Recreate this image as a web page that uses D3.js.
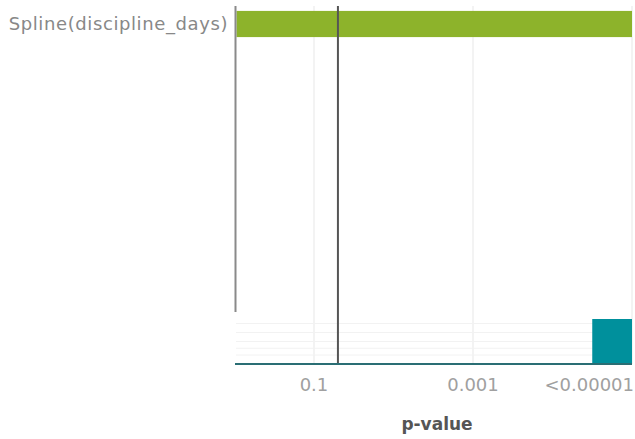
<!DOCTYPE html>
<html><head><meta charset="utf-8">
<script src="https://cdn.jsdelivr.net/npm/d3@7"></script>
<style>body{margin:0;background:#fff}svg{display:block}</style>
</head><body>
<svg id="c" width="635" height="439"></svg>
<script>
const effects = ["Spline(discipline_days)"];
const pValues = [0.000001];
const alpha = 0.05;
const tickValues = [0.1, 0.001, 0.00001];
const tickLabels = ["0.1", "0.001", "<0.00001"];
// histogram of -log10(p) bins (start, count)
const binStarts = [0, 0.5, 1, 1.5, 2, 2.5, 3, 3.5, 4, 4.5];
const binCounts = [0, 0, 0, 0, 0, 0, 0, 0, 0, 1];
const binWidth = 0.5;

const svg = d3.select("#c");
const nl = p => Math.min(5, -Math.log10(p));
const x = d3.scaleLinear().domain([0, 5]).range([234.5, 632]);
const y = d3.scaleBand().domain(effects).range([8, 40]).paddingInner(0.1).paddingOuter(0.1);
const topY0 = 6, axisY = 364;
const yh = d3.scaleLinear().domain([0, 1]).range([axisY, 319]);
const FONT = "DejaVu Sans";

svg.append("g").selectAll("line").data(tickValues).join("line")
  .attr("x1", d => x(nl(d))).attr("x2", d => x(nl(d)))
  .attr("y1", topY0).attr("y2", axisY)
  .attr("stroke", "#efefef").attr("stroke-width", 1.5);

svg.append("g").selectAll("line").data([0.1, 0.3, 0.5, 0.65, 0.8]).join("line")
  .attr("x1", 236).attr("x2", 632)
  .attr("y1", d => yh(1 - d)).attr("y2", d => yh(1 - d))
  .attr("stroke", "#f2f2f2").attr("stroke-width", 1);

svg.append("g").selectAll("rect").data(effects).join("rect")
  .attr("x", x(0) + 2).attr("y", d => y(d))
  .attr("width", (d, i) => x(nl(pValues[i])) - x(0) - 2)
  .attr("height", y.bandwidth())
  .attr("fill", "#8db32b");

svg.append("g").selectAll("rect").data(binStarts).join("rect")
  .attr("x", d => x(d)).attr("y", (d, i) => yh(binCounts[i]))
  .attr("width", x(binWidth) - x(0))
  .attr("height", (d, i) => axisY - yh(binCounts[i]))
  .attr("fill", "#00909c");

svg.append("line").attr("x1", 235.5).attr("x2", 235.5).attr("y1", topY0).attr("y2", 312)
  .attr("stroke", "#8a8a8a").attr("stroke-width", 2);

svg.append("line").attr("x1", x(nl(alpha))).attr("x2", x(nl(alpha)))
  .attr("y1", topY0).attr("y2", axisY)
  .attr("stroke", "#555").attr("stroke-width", 2);

svg.append("line").attr("x1", 235).attr("x2", 632).attr("y1", axisY).attr("y2", axisY)
  .attr("stroke", "#2a6e74").attr("stroke-width", 2);

svg.append("g").selectAll("text").data(tickValues).join("text")
  .attr("x", (d, i) => i === tickValues.length - 1 ? 634 : x(nl(d)))
  .attr("y", 391)
  .attr("text-anchor", (d, i) => i === tickValues.length - 1 ? "end" : "middle")
  .attr("font-family", FONT).attr("font-size", 18)
  .attr("fill", "#a0a0a0")
  .text((d, i) => tickLabels[i]);

svg.append("g").selectAll("text").data(effects).join("text")
  .attr("x", 228).attr("y", d => y(d) + y.bandwidth() / 2 + 6)
  .attr("text-anchor", "end")
  .attr("font-family", FONT).attr("font-size", 18).attr("letter-spacing", 0.6)
  .attr("fill", "#888")
  .text(d => d);

svg.append("text").attr("x", 437).attr("y", 430).attr("text-anchor", "middle")
  .attr("font-family", FONT).attr("font-weight", "bold").attr("font-size", 17)
  .attr("fill", "#555").text("p-value");
</script>
</body></html>
